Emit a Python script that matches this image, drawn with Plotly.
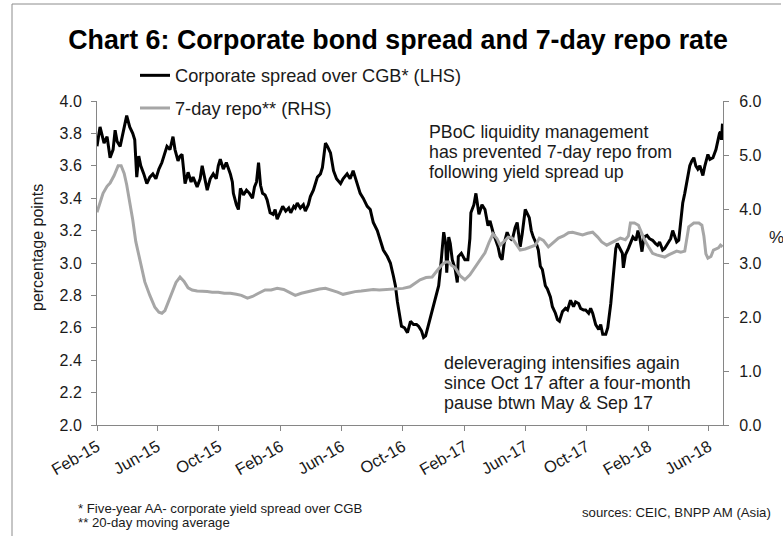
import plotly.graph_objects as go

# ---- Data -------------------------------------------------------------
# Five-year AA- corporate yield spread over CGB (percentage points, LHS)
spread_dates = [
    "2015-02-01", "2015-02-07", "2015-02-15", "2015-02-21", "2015-02-27", "2015-03-05", "2015-03-09",
    "2015-03-13", "2015-03-19", "2015-03-25", "2015-04-01", "2015-04-07", "2015-04-13", "2015-04-17",
    "2015-04-21", "2015-04-25", "2015-04-29", "2015-05-05", "2015-05-11", "2015-05-17", "2015-05-23",
    "2015-05-29", "2015-06-04", "2015-06-10", "2015-06-16", "2015-06-20", "2015-06-26", "2015-07-02",
    "2015-07-06", "2015-07-12", "2015-07-16", "2015-07-20", "2015-07-26", "2015-08-01", "2015-08-07",
    "2015-08-11", "2015-08-19", "2015-08-25", "2015-08-29", "2015-09-04", "2015-09-08", "2015-09-14",
    "2015-09-20", "2015-09-26", "2015-09-30", "2015-10-04", "2015-10-10", "2015-10-16", "2015-10-24",
    "2015-10-28", "2015-10-30", "2015-11-05", "2015-11-09", "2015-11-13", "2015-11-19", "2015-11-25",
    "2015-12-01", "2015-12-07", "2015-12-11", "2015-12-15", "2015-12-19", "2015-12-23", "2015-12-27",
    "2016-01-01", "2016-01-05", "2016-01-11", "2016-01-17", "2016-01-21", "2016-01-25", "2016-02-01",
    "2016-02-05", "2016-02-11", "2016-02-17", "2016-02-21", "2016-02-27", "2016-03-01", "2016-03-05",
    "2016-03-11", "2016-03-17", "2016-03-21", "2016-03-27", "2016-03-31", "2016-04-06", "2016-04-14",
    "2016-04-20", "2016-04-24", "2016-04-30", "2016-05-04", "2016-05-10", "2016-05-16", "2016-05-22",
    "2016-05-30", "2016-06-04", "2016-06-12", "2016-06-18", "2016-06-24", "2016-06-28", "2016-07-02",
    "2016-07-08", "2016-07-14", "2016-07-22", "2016-07-28", "2016-08-03", "2016-08-11", "2016-08-17",
    "2016-08-23", "2016-08-31", "2016-09-06", "2016-09-12", "2016-09-16", "2016-09-20", "2016-09-24",
    "2016-09-28", "2016-10-04", "2016-10-10", "2016-10-16", "2016-10-22", "2016-10-28", "2016-11-01",
    "2016-11-07", "2016-11-11", "2016-11-15", "2016-11-21", "2016-11-25", "2016-12-01", "2016-12-05",
    "2016-12-11", "2016-12-15", "2016-12-19", "2016-12-21", "2016-12-25", "2016-12-27", "2016-12-31",
    "2017-01-03", "2017-01-07", "2017-01-13", "2017-01-17", "2017-01-19", "2017-01-25", "2017-02-01",
    "2017-02-07", "2017-02-11", "2017-02-13", "2017-02-19", "2017-02-23", "2017-02-27", "2017-03-01",
    "2017-03-07", "2017-03-13", "2017-03-19", "2017-03-23", "2017-03-29", "2017-04-04", "2017-04-08",
    "2017-04-12", "2017-04-16", "2017-04-20", "2017-04-26", "2017-04-30", "2017-05-06", "2017-05-12",
    "2017-05-16", "2017-05-22", "2017-05-26", "2017-06-01", "2017-06-05", "2017-06-09", "2017-06-13",
    "2017-06-17", "2017-06-23", "2017-06-27", "2017-07-01", "2017-07-05", "2017-07-11", "2017-07-15",
    "2017-07-21", "2017-07-25", "2017-07-31", "2017-08-04", "2017-08-08", "2017-08-14", "2017-08-20",
    "2017-08-24", "2017-08-30", "2017-09-05", "2017-09-09", "2017-09-15", "2017-09-19", "2017-09-25",
    "2017-09-29", "2017-10-05", "2017-10-09", "2017-10-13", "2017-10-19", "2017-10-25", "2017-10-29",
    "2017-11-02", "2017-11-08", "2017-11-12", "2017-11-18", "2017-11-22", "2017-11-24", "2017-11-28",
    "2017-12-01", "2017-12-07", "2017-12-11", "2017-12-13", "2017-12-17", "2017-12-23", "2017-12-27",
    "2018-01-01", "2018-01-07", "2018-01-11", "2018-01-15", "2018-01-19", "2018-01-23", "2018-01-29",
    "2018-02-03", "2018-02-09", "2018-02-15", "2018-02-19", "2018-02-23", "2018-03-01", "2018-03-05",
    "2018-03-11", "2018-03-17", "2018-03-21", "2018-03-25", "2018-03-29", "2018-04-02", "2018-04-06",
    "2018-04-10", "2018-04-14", "2018-04-18", "2018-04-24", "2018-04-28", "2018-05-02", "2018-05-06",
    "2018-05-10", "2018-05-14", "2018-05-20", "2018-05-24", "2018-05-30", "2018-06-03", "2018-06-09",
    "2018-06-15", "2018-06-19", "2018-06-22", "2018-06-24", "2018-06-26", "2018-06-28",
]
spread_values = [
    3.72, 3.84, 3.74, 3.78, 3.65, 3.70, 3.82,
    3.75, 3.72, 3.80, 3.91, 3.84, 3.80, 3.76,
    3.53, 3.66, 3.60, 3.55, 3.49, 3.53, 3.55,
    3.52, 3.58, 3.62, 3.68, 3.72, 3.70, 3.78,
    3.70, 3.63, 3.66, 3.67, 3.49, 3.56, 3.50,
    3.53, 3.47, 3.52, 3.60, 3.50, 3.45, 3.52,
    3.55, 3.52, 3.60, 3.64, 3.58, 3.62, 3.55,
    3.50, 3.43, 3.36, 3.33, 3.46, 3.42, 3.45,
    3.43, 3.40, 3.47, 3.50, 3.62, 3.48, 3.43,
    3.42, 3.39, 3.31, 3.30, 3.33, 3.27, 3.32,
    3.35, 3.32, 3.34, 3.31, 3.35, 3.34, 3.37,
    3.34, 3.36, 3.32, 3.36, 3.41, 3.45, 3.53,
    3.55, 3.59, 3.74, 3.72, 3.68, 3.57, 3.52,
    3.49, 3.52, 3.55, 3.52, 3.57, 3.53, 3.50,
    3.43, 3.40, 3.35, 3.33, 3.25, 3.20, 3.14,
    3.08, 3.04, 3.00, 2.92, 2.86, 2.76, 2.68,
    2.61, 2.60, 2.57, 2.64, 2.62, 2.62, 2.61,
    2.58, 2.54, 2.55, 2.62, 2.67, 2.73, 2.79,
    2.86, 2.98, 3.10, 3.19, 3.12, 2.94, 3.16,
    3.12, 3.02, 2.96, 2.88, 3.04, 3.06, 3.02,
    3.02, 3.15, 3.31, 3.36, 3.43, 3.33, 3.30,
    3.36, 3.33, 3.23, 3.26, 3.19, 3.14, 3.10,
    3.04, 3.02, 3.12, 3.19, 3.16, 3.14, 3.22,
    3.25, 3.10, 3.18, 3.33, 3.30, 3.28, 3.20,
    3.16, 3.12, 3.08, 2.98, 2.96, 2.86, 2.84,
    2.79, 2.73, 2.69, 2.65, 2.64, 2.70, 2.72,
    2.71, 2.77, 2.73, 2.76, 2.75, 2.72, 2.71,
    2.71, 2.69, 2.72, 2.69, 2.62, 2.59, 2.62,
    2.56, 2.56, 2.60, 2.75, 2.88, 2.96, 3.09,
    3.12, 3.08, 3.06, 2.97, 3.05, 3.09, 3.12,
    3.16, 3.14, 3.20, 3.15, 3.07, 3.16, 3.17,
    3.15, 3.14, 3.12, 3.11, 3.13, 3.08, 3.09,
    3.12, 3.15, 3.20, 3.17, 3.13, 3.14, 3.25,
    3.37, 3.43, 3.50, 3.60, 3.63, 3.65, 3.60,
    3.58, 3.60, 3.54, 3.60, 3.67, 3.64, 3.65,
    3.70, 3.77, 3.80, 3.81, 3.76, 3.86,
]

# 7-day repo rate, 20-day moving average (%, RHS)
repo_dates = [
    "2015-02-01", "2015-02-07", "2015-02-13", "2015-02-21", "2015-02-27", "2015-03-07", "2015-03-15",
    "2015-03-21", "2015-03-27", "2015-04-01", "2015-04-07", "2015-04-13", "2015-04-19", "2015-04-27",
    "2015-05-07", "2015-05-17", "2015-05-27", "2015-06-04", "2015-06-10", "2015-06-16", "2015-06-24",
    "2015-06-30", "2015-07-08", "2015-07-16", "2015-07-24", "2015-08-01", "2015-08-09", "2015-08-19",
    "2015-08-29", "2015-09-08", "2015-09-18", "2015-09-30", "2015-10-12", "2015-10-24", "2015-11-05",
    "2015-11-15", "2015-11-27", "2015-12-07", "2015-12-19",
    "2016-01-01", "2016-01-13", "2016-01-25", "2016-02-07", "2016-02-19", "2016-03-01", "2016-03-13",
    "2016-03-25", "2016-04-06", "2016-04-18", "2016-04-30", "2016-05-12", "2016-05-24", "2016-06-04",
    "2016-06-16", "2016-06-28", "2016-07-10", "2016-07-22", "2016-08-03", "2016-08-15", "2016-08-27",
    "2016-09-08", "2016-09-20", "2016-10-01", "2016-10-15", "2016-10-25", "2016-11-04", "2016-11-16",
    "2016-11-28", "2016-12-09", "2016-12-17", "2016-12-25", "2016-12-31",
    "2017-01-05", "2017-01-13", "2017-01-23", "2017-02-01", "2017-02-11", "2017-02-21", "2017-03-03",
    "2017-03-13", "2017-03-21", "2017-03-29", "2017-04-06", "2017-04-12", "2017-04-20", "2017-04-28",
    "2017-05-06", "2017-05-14", "2017-05-22", "2017-06-01", "2017-06-11", "2017-06-21", "2017-06-29",
    "2017-07-07", "2017-07-17", "2017-07-27", "2017-08-06", "2017-08-16", "2017-08-26", "2017-09-03",
    "2017-09-13", "2017-09-23", "2017-10-03", "2017-10-13", "2017-10-23", "2017-10-31", "2017-11-10",
    "2017-11-20", "2017-11-30", "2017-12-07", "2017-12-17", "2017-12-23", "2017-12-27",
    "2018-01-04", "2018-01-12", "2018-01-18", "2018-01-24", "2018-02-01", "2018-02-09", "2018-02-17",
    "2018-02-25", "2018-03-05", "2018-03-13", "2018-03-21", "2018-03-29", "2018-04-06", "2018-04-14",
    "2018-04-22", "2018-05-02", "2018-05-12", "2018-05-18", "2018-05-22", "2018-05-26", "2018-05-30",
    "2018-06-05", "2018-06-10", "2018-06-15", "2018-06-20", "2018-06-24", "2018-06-28",
]
repo_values = [
    3.94, 4.10, 4.29, 4.42, 4.48, 4.62, 4.80,
    4.80, 4.66, 4.45, 4.15, 3.80, 3.40, 3.06,
    2.65, 2.40, 2.18, 2.09, 2.07, 2.12, 2.32,
    2.46, 2.64, 2.74, 2.66, 2.54, 2.50, 2.48,
    2.48, 2.47, 2.46, 2.46, 2.44, 2.44, 2.42,
    2.40, 2.35, 2.38, 2.44,
    2.50, 2.50, 2.53, 2.51, 2.46, 2.40, 2.44,
    2.47, 2.50, 2.52, 2.53, 2.50, 2.46, 2.42,
    2.45, 2.47, 2.48, 2.50, 2.51, 2.50, 2.51,
    2.52, 2.52, 2.53, 2.56, 2.62, 2.69, 2.73,
    2.74, 2.87, 2.96, 3.02, 3.02,
    2.96, 2.91, 2.76, 2.69, 2.78, 2.91, 3.05,
    3.19, 3.38, 3.54, 3.45, 3.33, 3.40, 3.48,
    3.46, 3.36, 3.24, 3.26, 3.30, 3.33, 3.46,
    3.42, 3.30, 3.38, 3.46, 3.50, 3.56, 3.57,
    3.54, 3.52, 3.55, 3.57, 3.48, 3.39, 3.33,
    3.38, 3.44, 3.46, 3.43, 3.50, 3.74,
    3.74, 3.70, 3.56, 3.43, 3.30, 3.18, 3.15,
    3.13, 3.11, 3.15, 3.19, 3.22, 3.20, 3.22,
    3.67, 3.74, 3.74, 3.70, 3.50, 3.17, 3.09,
    3.12, 3.24, 3.26, 3.28, 3.33, 3.30,
]

x_tick_dates = ["2015-02-01", "2015-06-01", "2015-10-01", "2016-02-01", "2016-06-01", "2016-10-01",
                "2017-02-01", "2017-06-01", "2017-10-01", "2018-02-01", "2018-06-01"]
x_tick_labels = ["Feb-15", "Jun-15", "Oct-15", "Feb-16", "Jun-16", "Oct-16",
                 "Feb-17", "Jun-17", "Oct-17", "Feb-18", "Jun-18"]

series_names = ["Corporate spread over CGB* (LHS)", "7-day repo** (RHS)"]

# ---- Layout helpers -----------------------------------------------------
W, H = 783, 536
PL, PR, PT, PB = 97, 723, 101, 425   # plot area edges in pixels


def px_x(px):
    return (px - PL) / (PR - PL)


def px_y(py):
    return (PB - py) / (PB - PT)


FONT = "Liberation Sans, Arial, sans-serif"
TEXT = "#1a1a1a"
AXIS = "#868686"

fig = go.Figure()
fig.add_trace(go.Scatter(
    x=spread_dates, y=spread_values, name=series_names[0], mode="lines",
    line=dict(color="#000000", width=3), legendgroup="a", yaxis="y",
))
fig.add_trace(go.Scatter(
    x=repo_dates, y=repo_values, name=series_names[1], mode="lines",
    line=dict(color="#a6a6a6", width=3), legendgroup="b", yaxis="y2",
))

axis_common = dict(
    showgrid=False, zeroline=False, showline=True, linecolor=AXIS, linewidth=1,
    ticks="outside", ticklen=5, tickcolor=AXIS, tickwidth=1,
    tickfont=dict(family=FONT, size=16, color=TEXT),
)

fig.update_layout(
    width=W, height=H, autosize=False,
    margin=dict(l=PL, r=W - PR, t=PT, b=H - PB, pad=0),
    paper_bgcolor="white", plot_bgcolor="white",
    font=dict(family=FONT, color=TEXT),
    title=dict(
        text="<b>Chart 6: Corporate bond spread and 7-day repo rate</b>",
        font=dict(family=FONT, size=26.8, color="#000000"),
        x=398 / W, xref="container", xanchor="center",
        y=1 - 40 / H, yref="container", yanchor="middle",
    ),
    xaxis=dict(
        type="date", range=["2015-02-01", "2018-06-29"],
        tickmode="array", tickvals=x_tick_dates, ticktext=x_tick_labels,
        tickangle=-30, **{**axis_common, "tickfont": dict(family=FONT, size=16.5, color=TEXT)},
    ),
    yaxis=dict(range=[2.0, 4.0], dtick=0.2, tick0=2.0, tickformat=".1f",
               ticklabelstandoff=6, **axis_common),
    yaxis2=dict(range=[0.0, 6.0], dtick=1.0, tick0=0.0, tickformat=".1f",
                overlaying="y", side="right", anchor="x",
                ticklabelstandoff=7, **axis_common),
    showlegend=True,
    legend=dict(
        x=px_x(135), y=px_y(57), xanchor="left", yanchor="top",
        bgcolor="rgba(0,0,0,0)", borderwidth=0,
        font=dict(family=FONT, size=18.2, color=TEXT),
        traceorder="grouped", tracegroupgap=6, itemwidth=30,
    ),
)

annotations = []


def add_text(text, x, y, size, xanchor="left", angle=0, color=TEXT):
    annotations.append(dict(
        text=text, x=px_x(x), y=px_y(y), xref="paper", yref="paper",
        xanchor=xanchor, yanchor="middle", showarrow=False, textangle=angle,
        font=dict(family=FONT, size=size, color=color),
    ))


for i, line in enumerate(["PBoC liquidity management",
                          "has prevented 7-day repo from",
                          "following yield spread up"]):
    add_text(line, 427, 132 + 20 * i, 17.8)

for i, line in enumerate(["deleveraging intensifies again",
                          "since Oct 17 after a four-month",
                          "pause btwn May & Sep 17"]):
    add_text(line, 442, 363 + 20 * i, 17.9)

add_text("percentage points", 37, 248, 16, xanchor="center", angle=-90)
add_text("%", 777, 237, 17, xanchor="center")
add_text("* Five-year AA- corporate yield spread over CGB", 76, 508, 13.2)
add_text("** 20-day moving average", 76, 522, 13.2)
add_text("sources: CEIC, BNPP AM (Asia)", 773, 512, 13.2, xanchor="right")

fig.update_layout(annotations=annotations)

# Frame lines along the top and left edges of the page
fig.add_shape(type="line", xref="paper", yref="paper",
              x0=px_x(12), y0=px_y(4), x1=px_x(781), y1=px_y(4),
              line=dict(color="#8c8c8c", width=1))
fig.add_shape(type="line", xref="paper", yref="paper",
              x0=px_x(12), y0=px_y(4), x1=px_x(12), y1=px_y(536),
              line=dict(color="#8c8c8c", width=1))

fig.write_html("out.html")
